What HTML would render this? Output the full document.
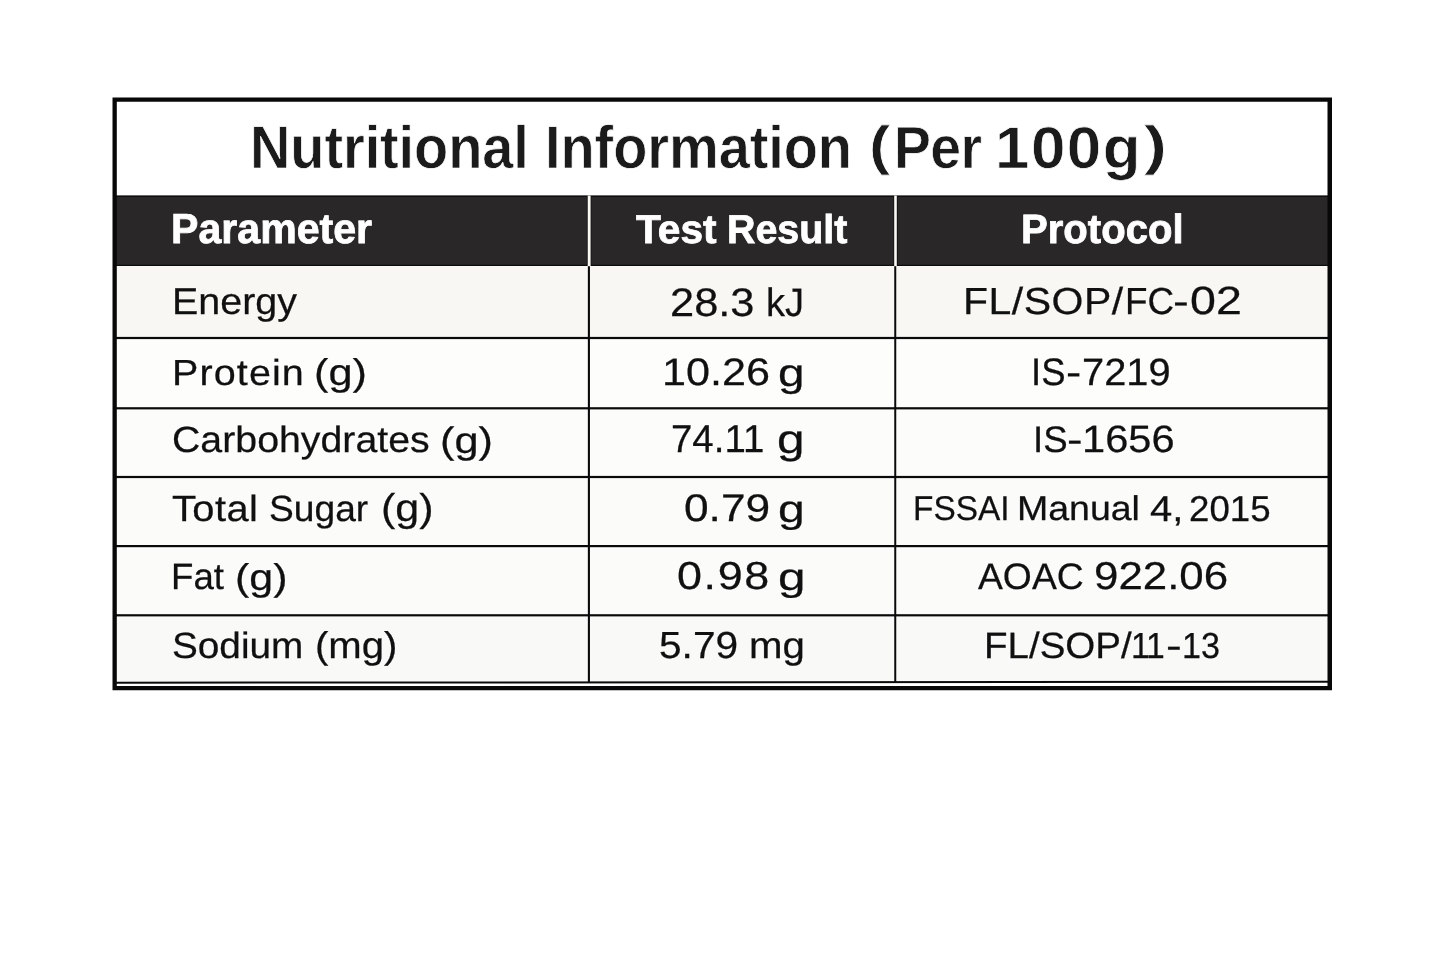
<!DOCTYPE html>
<html lang="en">
<head>
<meta charset="utf-8">
<title>Nutritional Information (Per 100g)</title>
<style>
  html, body { margin: 0; padding: 0; background: #ffffff; }
  body { width: 1445px; height: 963px; position: relative; overflow: hidden;
         font-family: "Liberation Sans", sans-serif; color: #141414; }
  .abs { position: absolute; }
  #sheet, .row, .cell { margin: 0; padding: 0; font-size: 0; line-height: 0; font-weight: 400; }
  #grid { left: 0; top: 0; filter: blur(0.35px); }
  #sheet { position: absolute; left: 0; top: 0; width: 1445px; height: 963px; filter: blur(0.35px); }
  .t { white-space: nowrap; line-height: 1; transform-origin: 0 0; text-rendering: geometricPrecision; }
  .title { font-weight: 700; color: #1b1b1b; -webkit-text-stroke: 0.7px #ffffff; }
  .th { font-weight: 700; color: #ffffff; -webkit-text-stroke: 0.8px #ffffff; }
  .td { font-weight: 400; color: #101010; -webkit-text-stroke: 0.25px #101010; }
</style>
</head>
<body>
  <!-- table frame, header band, row backgrounds and grid lines -->
  <svg id="grid" class="abs" width="1445" height="963" viewBox="0 0 1445 963">
    <!-- row backgrounds -->
    <rect x="116" y="266" width="1212" height="72" fill="#f8f7f4"/>
    <rect x="116" y="338" width="1212" height="70.3" fill="#fdfdfc"/>
    <rect x="116" y="408.3" width="1212" height="68.7" fill="#fcfcfb"/>
    <rect x="116" y="477" width="1212" height="69.1" fill="#fbfbfa"/>
    <rect x="116" y="546.1" width="1212" height="69.2" fill="#fbfbfa"/>
    <rect x="116" y="615.3" width="1212" height="67" fill="#f9f9f8"/>
    <!-- header band -->
    <rect x="116" y="195.6" width="1212" height="70.4" fill="#292728"/>
    <rect x="116" y="195.6" width="1212" height="1.2" fill="#0b0b0b"/>
    <rect x="116" y="264.8" width="1212" height="1.2" fill="#0d0d0d"/>
    <!-- header column separators (white) -->
    <rect x="586.9" y="196" width="4.4" height="70" fill="#0c0a0a"/>
    <rect x="893.6" y="196" width="4.0" height="70" fill="#0c0a0a"/>
    <rect x="587.7" y="195.6" width="2.9" height="70.6" fill="#fbf9f4"/>
    <rect x="894.2" y="195.6" width="2.6" height="70.6" fill="#fbf9f4"/>
    <!-- body column separators -->
    <rect x="587.85" y="266.2" width="2.1" height="416" fill="#0a0a0a"/>
    <rect x="894.25" y="266.2" width="2.0" height="416" fill="#0a0a0a"/>
    <!-- row separators -->
    <rect x="116" y="336.9" width="1212" height="2.2" fill="#0a0a0a"/>
    <rect x="116" y="407.2" width="1212" height="2.2" fill="#0a0a0a"/>
    <rect x="116" y="475.9" width="1212" height="2.2" fill="#0a0a0a"/>
    <rect x="116" y="545.0" width="1212" height="2.2" fill="#0a0a0a"/>
    <rect x="116" y="614.2" width="1212" height="2.2" fill="#0a0a0a"/>
    <!-- double bottom rule -->
    <rect x="116" y="682.6" width="1212" height="4" fill="#ffffff"/>
    <line x1="116" y1="682.7" x2="1328" y2="681.8" stroke="#0a0a0a" stroke-width="2"/>
    <!-- outer frame -->
    <path fill="#080808" fill-rule="evenodd" d="M112.5 97.5H1332V690.2H112.5Z M116.8 101.8V686.1H1327.5V101.8Z"/>
  </svg>

  <!-- text -->
  <div id="sheet" role="table" aria-label="Nutritional Information (Per 100g)">
    <div class="row" role="row">
      <h1 class="cell" role="caption"><span id="t1" class="abs t title" style="left:250.30px;top:116.97px;font-size:60.21px;transform:scaleX(0.9300);letter-spacing:-0.118px">Nutritional</span> <span id="t2" class="abs t title" style="left:544.70px;top:116.97px;font-size:60.21px;transform:scaleX(0.9300);letter-spacing:-0.094px">Information</span> <span id="t3" class="abs t title" style="left:869.37px;top:119.37px;font-size:54.07px;transform:scaleX(1.1787)">(</span><span id="t4" class="abs t title" style="left:894.20px;top:118.47px;font-size:59.51px;transform:scaleX(0.9300);letter-spacing:-0.686px">Per</span> <span id="t5" class="abs t title" style="left:995.33px;top:119.93px;font-size:58.95px;transform:scaleX(1.0500);letter-spacing:1.439px">100g</span><span id="t6" class="abs t title" style="left:1144.03px;top:119.37px;font-size:54.07px;transform:scaleX(1.2786)">)</span></h1>
    </div>
    <div class="row" role="row">
      <div class="cell" role="columnheader"><span id="h1" class="abs t th" style="left:171.43px;top:208.43px;font-size:42.05px;transform:scaleX(0.9777)">Parameter</span></div>
      <div class="cell" role="columnheader"><span id="h2a" class="abs t th" style="left:635.60px;top:209.73px;font-size:40.24px;transform:scaleX(1.0101)">Test</span> <span id="h2b" class="abs t th" style="left:727.23px;top:209.73px;font-size:40.24px;transform:scaleX(0.9781)">Result</span></div>
      <div class="cell" role="columnheader"><span id="h3" class="abs t th" style="left:1020.73px;top:208.63px;font-size:41.00px;transform:scaleX(0.9775)">Protocol</span></div>
    </div>
    <div class="row" role="row">
      <div class="cell" role="cell"><span id="a1" class="abs t td" style="left:172.00px;top:283.40px;font-size:37.29px;transform:scaleX(1.0580)">Energy</span></div>
      <div class="cell" role="cell"><span id="b1n" class="abs t td" style="left:669.60px;top:283.67px;font-size:39.79px;transform:scaleX(1.0914)">28.3</span> <span id="b1u" class="abs t td" style="left:765.83px;top:284.00px;font-size:39.72px;transform:scaleX(0.9593)">kJ</span></div>
      <div class="cell" role="cell"><span id="c1a" class="abs t td" style="left:963.33px;top:282.60px;font-size:37.63px;transform:scaleX(1.0900);letter-spacing:0.451px">FL/SOP/</span><span id="c1b" class="abs t td" style="left:1124.70px;top:282.60px;font-size:37.63px;transform:scaleX(0.9788)">FC</span><span id="c1h" class="abs t td" style="left:1172.90px;top:282.60px;font-size:37.63px;transform:scaleX(1.2574)">-</span><span id="c1c" class="abs t td" style="left:1190.17px;top:282.47px;font-size:39.45px;transform:scaleX(1.1812)">02</span></div>
    </div>
    <div class="row" role="row">
      <div class="cell" role="cell"><span id="a2a" class="abs t td" style="left:172.10px;top:355.40px;font-size:36.25px;transform:scaleX(1.0900);letter-spacing:1.014px">Protein</span> <span id="a2b" class="abs t td" style="left:314.27px;top:354.40px;font-size:37.25px;transform:scaleX(1.1638)">(g)</span></div>
      <div class="cell" role="cell"><span id="b2n" class="abs t td" style="left:661.50px;top:353.87px;font-size:38.32px;transform:scaleX(1.1262)">10.26</span> <span id="b2u" class="abs t td" style="left:778.20px;top:354.57px;font-size:38.71px;transform:scaleX(1.2321)">g</span></div>
      <div class="cell" role="cell"><span id="c2a" class="abs t td" style="left:1031.23px;top:354.00px;font-size:38.34px;transform:scaleX(0.9511)">IS</span><span id="c2h" class="abs t td" style="left:1065.90px;top:354.00px;font-size:38.34px;transform:scaleX(1.1899)">-</span><span id="c2b" class="abs t td" style="left:1082.40px;top:353.63px;font-size:38.06px;transform:scaleX(1.0461)">7219</span></div>
    </div>
    <div class="row" role="row">
      <div class="cell" role="cell"><span id="a3a" class="abs t td" style="left:172.10px;top:422.40px;font-size:36.53px;transform:scaleX(1.0756)">Carbohydrates</span> <span id="a3b" class="abs t td" style="left:439.87px;top:422.87px;font-size:36.84px;transform:scaleX(1.1754)">(g)</span></div>
      <div class="cell" role="cell"><span id="b3n" class="abs t td" style="left:671.27px;top:420.50px;font-size:38.84px;transform:scaleX(0.9897)">74.11</span> <span id="b3u" class="abs t td" style="left:777.20px;top:419.20px;font-size:40.56px;transform:scaleX(1.2238)">g</span></div>
      <div class="cell" role="cell"><span id="c3a" class="abs t td" style="left:1032.93px;top:421.70px;font-size:36.86px;transform:scaleX(0.9934)">IS</span><span id="c3h" class="abs t td" style="left:1066.60px;top:421.70px;font-size:36.86px;transform:scaleX(1.2648)">-</span><span id="c3b" class="abs t td" style="left:1081.50px;top:420.73px;font-size:38.11px;transform:scaleX(1.0917)">1656</span></div>
    </div>
    <div class="row" role="row">
      <div class="cell" role="cell"><span id="a4a" class="abs t td" style="left:172.37px;top:490.50px;font-size:36.53px;transform:scaleX(1.0900);letter-spacing:0.414px">Total</span> <span id="a4b" class="abs t td" style="left:268.77px;top:490.50px;font-size:36.53px;transform:scaleX(1.0178)">Sugar</span> <span id="a4c" class="abs t td" style="left:380.77px;top:489.67px;font-size:38.66px;transform:scaleX(1.1133)">(g)</span></div>
      <div class="cell" role="cell"><span id="b4n" class="abs t td" style="left:684.27px;top:489.70px;font-size:38.50px;transform:scaleX(1.1500)">0.79</span> <span id="b4u" class="abs t td" style="left:778.20px;top:491.07px;font-size:38.32px;transform:scaleX(1.2558)">g</span></div>
      <div class="cell" role="cell"><span id="c4a" class="abs t td" style="left:913.47px;top:492.00px;font-size:34.38px;transform:scaleX(0.9715)">FSSAI</span> <span id="c4b" class="abs t td" style="left:1017.20px;top:492.00px;font-size:34.38px;transform:scaleX(1.0904)">Manual</span> <span id="c4c" class="abs t td" style="left:1150.17px;top:490.93px;font-size:35.92px;transform:scaleX(1.1142)">4,</span> <span id="c4d" class="abs t td" style="left:1188.77px;top:490.93px;font-size:35.92px;transform:scaleX(1.0204)">2015</span></div>
    </div>
    <div class="row" role="row">
      <div class="cell" role="cell"><span id="a5a" class="abs t td" style="left:170.50px;top:559.00px;font-size:36.58px;transform:scaleX(1.0021)">Fat</span> <span id="a5b" class="abs t td" style="left:235.17px;top:559.20px;font-size:37.25px;transform:scaleX(1.1520)">(g)</span></div>
      <div class="cell" role="cell"><span id="b5n" class="abs t td" style="left:677.17px;top:557.37px;font-size:39.03px;transform:scaleX(1.1500);letter-spacing:1.406px">0.98</span> <span id="b5u" class="abs t td" style="left:777.80px;top:559.37px;font-size:38.32px;transform:scaleX(1.2930)">g</span></div>
      <div class="cell" role="cell"><span id="c5a" class="abs t td" style="left:977.90px;top:559.40px;font-size:36.86px;transform:scaleX(1.0117)">AOAC</span> <span id="c5b" class="abs t td" style="left:1093.50px;top:558.17px;font-size:38.73px;transform:scaleX(1.1328)">922.06</span></div>
    </div>
    <div class="row" role="row">
      <div class="cell" role="cell"><span id="a6a" class="abs t td" style="left:171.87px;top:628.00px;font-size:36.53px;transform:scaleX(1.0606)">Sodium</span> <span id="a6b" class="abs t td" style="left:314.93px;top:626.57px;font-size:37.16px;transform:scaleX(1.0801)">(mg)</span></div>
      <div class="cell" role="cell"><span id="b6n" class="abs t td" style="left:659.07px;top:626.93px;font-size:37.69px;transform:scaleX(1.0786)">5.79</span> <span id="b6u" class="abs t td" style="left:748.57px;top:626.77px;font-size:36.99px;transform:scaleX(1.0872)">mg</span></div>
      <div class="cell" role="cell"><span id="c6a" class="abs t td" style="left:983.80px;top:628.20px;font-size:36.58px;transform:scaleX(1.0533)">FL/SOP/</span><span id="c6b" class="abs t td" style="left:1130.83px;top:627.73px;font-size:36.25px;transform:scaleX(0.9300);letter-spacing:-1.373px">11</span><span id="c6h" class="abs t td" style="left:1165.90px;top:628.20px;font-size:36.58px;transform:scaleX(1.2897)">-</span><span id="c6c" class="abs t td" style="left:1181.83px;top:627.73px;font-size:36.25px;transform:scaleX(0.9422)">13</span></div>
    </div>
  </div>
</body>
</html>
